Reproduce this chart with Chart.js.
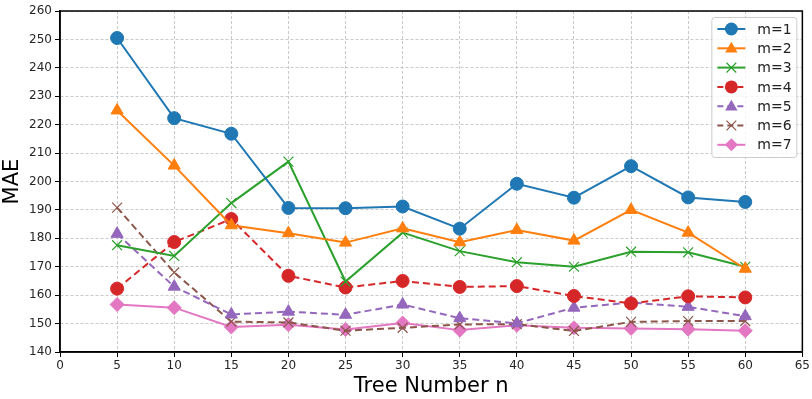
<!DOCTYPE html>
<html><head><meta charset="utf-8">
<script src="https://cdn.jsdelivr.net/npm/chart.js@4/dist/chart.umd.min.js"></script>
<style>html,body{margin:0;padding:0;background:#fff}#wrap{width:812px;height:399px}</style>
</head><body><div id="wrap"><canvas id="c" width="812" height="399"></canvas></div>
<script>
const treeNumbers = [5,10,15,20,25,30,35,40,45,50,55,60];
const m1 = [250.5,222.3,216.8,190.7,190.6,191.2,183.4,199.2,194.3,205.4,194.4,192.8];
const m2 = [225.0,205.6,184.6,181.8,178.5,183.5,178.6,182.9,179.2,190.0,182.0,169.3];
const m3 = [177.6,173.8,192.4,207.0,164.8,182.0,175.5,171.6,170.0,175.3,175.1,170.0];
const m4 = [162.3,178.7,186.8,166.8,162.7,165.0,162.9,163.2,159.7,157.1,159.6,159.2];
const m5 = [181.6,163.0,153.2,154.2,153.1,156.7,151.9,150.1,155.6,157.4,155.9,152.6];
const m6 = [190.8,168.0,150.7,150.4,147.5,148.5,149.7,149.8,147.4,150.6,150.9,150.9];
const m7 = [156.7,155.6,148.8,149.6,147.9,150.2,147.7,149.4,148.5,148.3,148.0,147.5];
const seriesLabels = ['m=1','m=2','m=3','m=4','m=5','m=6','m=7'];
const xTitle = 'Tree Number n';
const yTitle = 'MAE';

const colors = ['#1f77b4','#ff7f0e','#2ca02c','#d62728','#9467bd','#8c564b','#e377c2'];
const shapes = ['circle','triangle','crossRot','circle','triangle','crossRot','rectRot'];
const dashes = [[],[],[],[7,4],[7,4],[7,4],[]];
const sizes = [6.5,7,7,6.5,7,7,7];
const allSeries = [m1,m2,m3,m4,m5,m6,m7];

const datasets = allSeries.map((s,i)=>({
  label: seriesLabels[i],
  data: treeNumbers.map((x,j)=>({x:x,y:s[j]})),
  borderColor: colors[i],
  backgroundColor: colors[i],
  borderWidth: 2,
  borderDash: dashes[i],
  pointStyle: shapes[i],
  pointRadius: sizes[i],
  pointBorderWidth: shapes[i]==='crossRot'?1.2:1,
  pointBorderColor: colors[i],
  pointBackgroundColor: colors[i],
  tension: 0,
  fill: false
}));

function drawMarker(ctx, shape, x, y, r, color){
  ctx.save();
  ctx.fillStyle = color; ctx.strokeStyle = color; ctx.setLineDash([]);
  ctx.beginPath();
  if(shape==='circle'){ ctx.arc(x,y,r,0,Math.PI*2); ctx.fill(); }
  else if(shape==='triangle'){ ctx.moveTo(x,y-r); ctx.lineTo(x+r*0.95,y+r*0.65); ctx.lineTo(x-r*0.95,y+r*0.65); ctx.closePath(); ctx.fill(); }
  else if(shape==='crossRot'){ const d=r*0.75; ctx.lineWidth=1.2; ctx.moveTo(x-d,y-d); ctx.lineTo(x+d,y+d); ctx.moveTo(x+d,y-d); ctx.lineTo(x-d,y+d); ctx.stroke(); }
  else if(shape==='rectRot'){ ctx.moveTo(x,y-r); ctx.lineTo(x+r,y); ctx.lineTo(x,y+r); ctx.lineTo(x-r,y); ctx.closePath(); ctx.fill(); }
  ctx.restore();
}

const frameLegend = {
  id:'frameLegend',
  afterDraw(chart){
    const ctx = chart.ctx, a = chart.chartArea;
    ctx.save();
    ctx.strokeStyle = '#000'; ctx.lineWidth = 1.5; ctx.setLineDash([]);
    ctx.strokeRect(a.left, a.top, a.right-a.left, a.bottom-a.top);
    const bx = a.right - 91, by = a.top + 6, bw = 85, bh = 140;
    ctx.fillStyle = 'rgba(255,255,255,0.8)';
    ctx.strokeStyle = '#cccccc'; ctx.lineWidth = 1;
    ctx.beginPath();
    if(ctx.roundRect) ctx.roundRect(bx+0.5,by+0.5,bw,bh,3); else ctx.rect(bx+0.5,by+0.5,bw,bh);
    ctx.fill(); ctx.stroke();
    ctx.font = '14px "DejaVu Sans"';
    ctx.textBaseline = 'middle';
    chart.data.datasets.forEach((ds,i)=>{
      const y = by + 12 + i*19.3;
      ctx.save();
      ctx.strokeStyle = ds.borderColor; ctx.lineWidth = 2;
      ctx.setLineDash(ds.borderDash && ds.borderDash.length ? [6,4] : []);
      ctx.beginPath(); ctx.moveTo(bx+6,y); ctx.lineTo(bx+34,y); ctx.stroke();
      ctx.restore();
      drawMarker(ctx, ds.pointStyle, bx+20, y, 6.5, ds.borderColor);
      ctx.fillStyle = '#222';
      ctx.fillText(ds.label, bx+46, y+1);
    });
    ctx.restore();
  }
};

const gridOpts = { color:'#bcbcbc', lineWidth:0.8, tickColor:'#000', tickLength:5, tickBorderDash:[], tickWidth:1 };
const borderOpts = { display:true, color:'#000', width:1.5, dash:[3,2] };

new Chart(document.getElementById('c'), {
  type:'line',
  data:{ datasets },
  plugins:[frameLegend],
  options:{
    responsive:false, animation:false,
    layout:{ padding:{ top:11, right:9, left:0, bottom:0 } },
    plugins:{ legend:{display:false}, tooltip:{enabled:false} },
    scales:{
      x:{
        type:'linear', min:0, max:65,
        ticks:{ stepSize:5, color:'#262626', font:{family:'DejaVu Sans', size:12}, padding:2, maxRotation:0 },
        grid: gridOpts,
        border: borderOpts,
        title:{ display:true, text:xTitle, font:{family:'DejaVu Sans', size:21}, color:'#000', padding:{top:4,bottom:0} },
        afterFit(s){ s.height = 47; }
      },
      y:{
        min:140, max:260,
        ticks:{ stepSize:10, color:'#262626', font:{family:'DejaVu Sans', size:12}, padding:3 },
        grid: gridOpts,
        border: borderOpts,
        title:{ display:true, text:yTitle, font:{family:'DejaVu Sans', size:21}, color:'#000', padding:{top:0,bottom:2} },
        afterFit(s){ s.width = 60; }
      }
    }
  }
});
</script></body></html>
